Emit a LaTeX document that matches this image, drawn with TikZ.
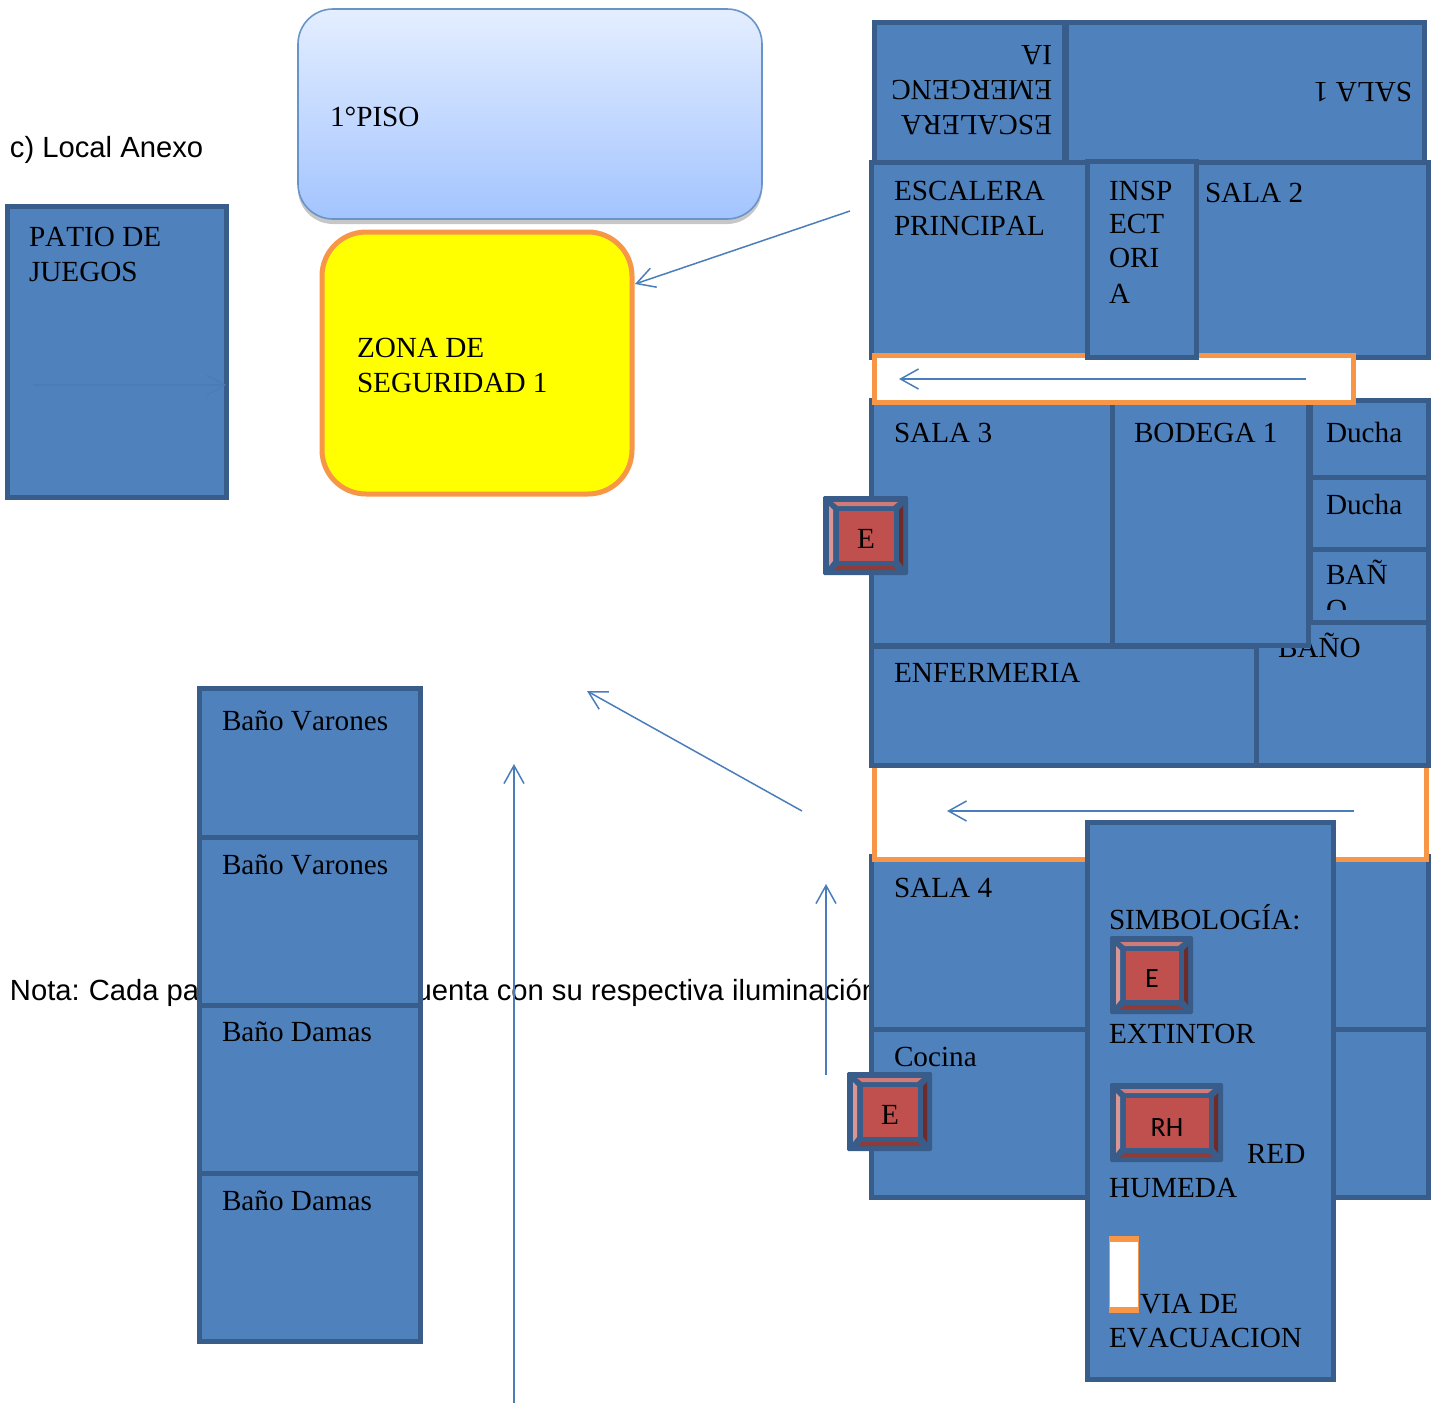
\documentclass[tikz,border=0pt]{standalone}
\usepackage{fontspec}
\setmainfont[Kerning=Off]{Liberation Serif}
\newfontfamily\arialf{Liberation Sans}
\newfontfamily\calf{Carlito}
\usetikzlibrary{arrows.meta}
\definecolor{rmfill}{HTML}{4F81BD}
\definecolor{rmline}{HTML}{385D8A}
\definecolor{orline}{HTML}{F79646}
\definecolor{redfill}{HTML}{C0504D}
\definecolor{arrowc}{HTML}{4A7EBB}
\definecolor{gradtop}{HTML}{E4EEFF}
\definecolor{gradbot}{HTML}{A3C4FF}
\definecolor{pureyellow}{rgb}{1,1,0}
\definecolor{bevtop}{HTML}{CF7B79}
\definecolor{bevleft}{HTML}{D99694}
\definecolor{bevright}{HTML}{6E2B29}
\definecolor{bevbot}{HTML}{8F3B38}
\tikzset{
  room/.style={draw=rmline,fill=rmfill,line width=2.5pt,inner sep=0pt,outer sep=0pt},
  lane/.style={draw=orline,fill=white,line width=2.5pt,inner sep=0pt,outer sep=0pt},
  lbl/.style={anchor=north west,inner sep=0pt,outer sep=0pt,align=left,font=\fontsize{14.6}{17.5}\selectfont},
  flbl/.style={anchor=north west,inner sep=0pt,outer sep=0pt,align=left,rotate=180,font=\fontsize{14.6}{17.5}\selectfont},
  sanslbl/.style={anchor=base west,inner sep=0pt,outer sep=0pt,font=\arialf\fontsize{14.6}{17}\selectfont},
  flow/.style={draw=arrowc,line width=0.75pt,-{Straight Barb[length=9pt,width=10pt,line width=0.75pt]},shorten >=0pt},
}
% name x1 y1 x2 y2
\newcommand{\roomat}[6][room]{\node[#1,minimum width={(#5-#3)*0.5pt},minimum height={(#6-#4)*0.5pt}] (#2) at ({(#3+#5)/2},{(#4+#6)/2}) {};}
% name x baseline text
\newcommand{\lab}[4]{\node[lbl] (#1) at (#2,{#3-24.5}) {\strut #4};}
\newcommand{\flab}[4]{\node[flbl] (#1) at (#2,{#3+24.5}) {\strut #4};}
% name x1 y1 x2 y2 text dy (outer blue frame edges)
\newcommand{\bevel}[7]{%
  \pgfmathsetmacro{\xa}{#2}\pgfmathsetmacro{\ya}{#3}\pgfmathsetmacro{\xb}{#4}\pgfmathsetmacro{\yb}{#5}%
  \fill[rmline,rounded corners=0.7pt] (\xa,\ya) rectangle (\xb,\yb);
  \fill[fill=bevtop] (\xa+10,\ya+6) -- (\xb-10,\ya+6) -- (\xb-15,\ya+10) -- (\xa+15,\ya+10) -- cycle;
  \fill[fill=bevleft] (\xa+6,\ya+10) -- (\xa+10,\ya+14) -- (\xa+10,\yb-14) -- (\xa+6,\yb-9) -- cycle;
  \fill[fill=bevright] (\xb-5,\ya+10) -- (\xb-9,\ya+14) -- (\xb-9,\yb-14) -- (\xb-5,\yb-9) -- cycle;
  \fill[fill=bevbot] (\xa+10,\yb-5) -- (\xb-10,\yb-5) -- (\xb-15,\yb-9) -- (\xa+15,\yb-9) -- cycle;
  \node[fill=redfill,inner sep=0pt,outer sep=0pt,minimum width={(\xb-\xa-30)*0.5pt},minimum height={(\yb-\ya-29)*0.5pt}] (#1) at ({(\xa+\xb)/2+0.5},{(\ya+\yb)/2}) {};
  \node[inner sep=0pt,outer sep=0pt] (#1t) at ({(\xa+\xb)/2+0.5},{(\ya+\yb)/2+#7}) {#6};
}
\begin{document}
\begin{tikzpicture}[x=0.5pt,y=-0.5pt]
\useasboundingbox (0,0) rectangle (1437,1403);

% plain text lying under the shapes
\node[sanslbl] (anexo) at (10,157) {c) Local Anexo};
\node[sanslbl] (notaa) at (10,1000) {Nota:\kern4.5pt Cada pa};
\node[sanslbl] (notab) at (401,1000) {cuenta con su respectiva iluminación};

% 1 PISO
\node[fill=black!22,rounded corners=17.5pt,inner sep=0pt,minimum width=232pt,minimum height=105pt] (pisoshadow) at (530,119) {};
\node[draw=rmfill!85!white,line width=0.8pt,rounded corners=17.5pt,top color=gradtop,bottom color=gradbot,inner sep=0pt,minimum width=232pt,minimum height=105pt] (piso) at (530,114) {};
\lab{pisot}{330}{126}{1°PISO}

% zona
\node[draw=orline,fill=pureyellow,line width=2.5pt,rounded corners=22pt,inner sep=0pt,minimum width=155pt,minimum height=131pt] (zona) at (477,363) {};
\lab{zonat}{357}{357}{ZONA DE\\SEGURIDAD 1}

% patio
\roomat{patio}{7}{206.5}{226}{497}
\lab{patiot}{29}{246}{PATIO DE\\JUEGOS}
\coordinate (pa) at (33,385);
\coordinate (pb) at (226,385);
\draw[draw=rmline!14!rmfill,line width=0.6pt,-{Straight Barb[length=9pt,width=10pt,line width=0.6pt]}] (pa) -- (pb);

% banos izquierda
\roomat{bv1}{199}{688}{420.5}{837}
\roomat{bv2}{199}{837}{420.5}{1005}
\roomat{bd1}{199}{1005}{420.5}{1173}
\roomat{bd2}{199}{1173}{420.5}{1341.5}
\lab{bv1t}{222}{730}{Baño Varones}
\lab{bv2t}{222}{874}{Baño Varones}
\lab{bd1t}{222}{1041}{Baño Damas}
\lab{bd2t}{222}{1210}{Baño Damas}

% planta derecha, fila superior
\roomat{escprin}{871.5}{162}{1090}{357.5}
\roomat{sala2}{1190}{162}{1428.5}{357.5}
\roomat{esceme}{874}{22}{1064}{162}
\roomat{sala1}{1066}{22}{1424}{162}
\flab{escemet}{1052}{115}{ESCALERA\\EMERGENC\\IA}
\flab{sala1t}{1412}{82}{SALA 1}
\lab{escprint}{894}{200}{ESCALERA\\PRINCIPAL}
\lab{sala2t}{1205}{202}{SALA 2}

% salas inferiores y via 2
\roomat{sala4}{871.5}{856.5}{1100}{1029}
\roomat{cocina}{871.5}{1029}{1100}{1197}
\roomat{rs4}{1300}{856.5}{1428.5}{1029}
\roomat{rc}{1300}{1029}{1428.5}{1197}
\roomat[lane]{lane2}{874}{764}{1426}{859}

% fila de salas
\roomat{sala3}{871.5}{400.5}{1112}{645}
\roomat{ducha1}{1310}{400.5}{1428.5}{477}
\roomat{ducha2}{1310}{477}{1428.5}{549}
\roomat{bano1}{1310}{549}{1428.5}{622}
\roomat{bano2}{1256}{622}{1428.5}{765.5}
\lab{bano2t}{1278}{657}{BAÑO}
\roomat{enf}{871.5}{646}{1256}{765.5}
\roomat{bodega}{1112}{400.5}{1308}{645}
\lab{enft}{894}{682}{ENFERMERIA}
\lab{sala3t}{894}{442}{SALA 3}
\lab{bodegat}{1134}{442}{BODEGA 1}
\lab{ducha1t}{1326}{442}{Ducha}
\lab{ducha2t}{1326}{514}{Ducha}
\begin{scope}
\clip (1310,549) rectangle (1428,609);
\lab{bano1t}{1326}{584}{BAÑ\\O}
\end{scope}

% via 1 e inspectoria
\roomat[lane]{lane1}{874.5}{355.5}{1353.5}{402.5}
\roomat{insp}{1087.5}{161}{1196.5}{357.5}
\lab{inspt}{1109}{200}{INSP\\[-1pt]ECT\\[-0.5pt]ORI\\[0.5pt]A}

% simbologia
\roomat{simb}{1087}{822}{1333}{1379}
\lab{sala4t}{894}{897}{SALA 4}
\lab{cocinat}{894}{1066}{Cocina}
\lab{simbt}{1109}{929}{SIMBOLOGÍA:}
\lab{extt}{1109}{1043}{EXTINTOR}
\lab{redt}{1247}{1163}{RED}
\lab{humt}{1109}{1197}{HUMEDA}
\lab{viat}{1140}{1313}{VIA DE}
\lab{evat}{1109}{1347}{EVACUACION}

% leyenda via
\node[fill=orline,inner sep=0pt,minimum width=15pt,minimum height=38.5pt] (viabox) at (1124,1274.5) {};
\node[fill=white,inner sep=0pt,minimum width=14pt,minimum height=32.5pt] (viawhite) at (1124,1274.5) {};

% extintores
\bevel{e1}{823}{496}{908}{575}{\fontsize{14.6}{17.5}\selectfont E}{3}
\bevel{e2}{847}{1072}{932}{1151}{\fontsize{14.6}{17.5}\selectfont E}{3}
\bevel{e3}{1110}{936}{1193}{1014}{\calf\fontsize{14}{17}\selectfont E}{4}
\bevel{rh}{1110}{1083}{1223}{1162}{\calf\fontsize{14}{17}\selectfont RH}{5}

% flechas
\coordinate (a1s) at (850,211);
\coordinate (a2s) at (1306,379);
\coordinate (a2e) at (899,379);
\coordinate (a3s) at (802,811);
\coordinate (a3e) at (587,691);
\coordinate (a4s) at (1354,811);
\coordinate (a4e) at (947,811);
\coordinate (a5s) at (514,1403);
\coordinate (a5e) at (514,764);
\coordinate (a6s) at (826,1075);
\coordinate (a6e) at (826,884);
\draw[flow] (a1s) -- (635,284);
\draw[flow] (a2s) -- (a2e);
\draw[flow] (a3s) -- (a3e);
\draw[flow] (a4s) -- (a4e);
\draw[flow] (a5s) -- (a5e);
\draw[flow] (a6s) -- (a6e);
\end{tikzpicture}
\end{document}
